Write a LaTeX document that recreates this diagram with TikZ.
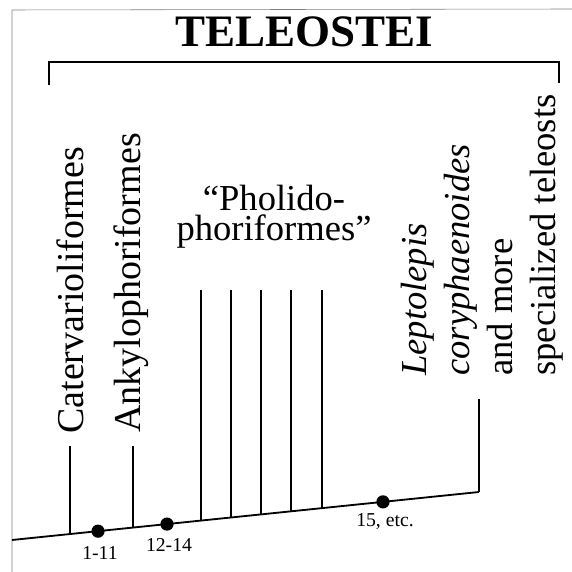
\documentclass[tikz,border=0pt]{standalone}
\usepackage{fontspec}
\setmainfont{Liberation Serif}
\usetikzlibrary{calc}

\begin{document}
\begin{tikzpicture}[
    x=0.025cm, y=0.025cm,
    % Styles
    taxon/.style={
        rotate=90,
        anchor=west,
        inner sep=0pt,
        font=\fontsize{27pt}{32pt}\selectfont
    },
    stem/.style={
        line width=0.9pt
    },
    axis/.style={
        line width=1.3pt
    },
    apo/.style={
        circle,
        fill=black,
        inner sep=0pt,
        minimum size=0.33cm
    },
    apolabel/.style={
        anchor=base,
        inner sep=0pt,
        font=\fontsize{14pt}{16pt}\selectfont
    }
]

% Frame
\useasboundingbox (0,0) rectangle (572,572);
\draw[gray, line width=0.4pt] (12,0) -- (12,562) -- (572,563);

% Title and bracket
\node[anchor=base, inner sep=0pt, font=\fontsize{32pt}{36pt}\selectfont\bfseries] (title) at (304,525) {TELEOSTEI};
\draw[line width=1.3pt] (49,487) -- (49,510) -- (559,510) -- (559,489);

% Main axis
\coordinate (root) at (12,32);
\coordinate (tip) at (479,80);
\draw[axis] (root) -- (tip);

% Tops of the branches
\coordinate (lowtop) at (0,126);
\coordinate (hightop) at (0,282);
\coordinate (tiptop) at (479,173);

% Branches
\coordinate (bCat) at ($(root)!0.1242!(tip)$);
\coordinate (bAnk) at ($(root)!0.2591!(tip)$);
\coordinate (bPh1) at ($(root)!0.4047!(tip)$);
\coordinate (bPh2) at ($(root)!0.4690!(tip)$);
\coordinate (bPh3) at ($(root)!0.5332!(tip)$);
\coordinate (bPh4) at ($(root)!0.5974!(tip)$);
\coordinate (bPh5) at ($(root)!0.6638!(tip)$);
\draw[stem] (bCat) -- (bCat |- lowtop);
\draw[stem] (bAnk) -- (bAnk |- lowtop);
\draw[stem] (bPh1) -- (bPh1 |- hightop);
\draw[stem] (bPh2) -- (bPh2 |- hightop);
\draw[stem] (bPh3) -- (bPh3 |- hightop);
\draw[stem] (bPh4) -- (bPh4 |- hightop);
\draw[stem] (bPh5) -- (bPh5 |- hightop);
\draw[stem] (tip) -- (tiptop);

% Characters on the axis
\node[apo] (apo1) at ($(root)!0.1842!(tip)$) {};
\node[apo] (apo2) at ($(root)!0.3319!(tip)$) {};
\node[apo] (apo3) at ($(root)!0.7944!(tip)$) {};
\node[apolabel] (lab1) at (100,12) {1-11};
\node[apolabel] (lab2) at (169,20) {12-14};
\node[apolabel] (lab3) at (385,45) {15, etc.};

% Taxa
\node[taxon] (cater) at (70,138) {Catervarioliformes};
\node[taxon] (ankylo) at (131,139) {Ankylophoriformes};
\node[align=center, anchor=base, inner sep=0pt, font=\fontsize{26pt}{22pt}\selectfont] (pholido) at (274,331) {“Pholido-\\phoriformes”};
\node[rotate=90, anchor=south west, align=left, inner sep=0pt, font=\fontsize{26pt}{30.6pt}\selectfont] (lepto) at (564,196) {\textit{Leptolepis}\\\textit{coryphaenoides}\\and more\\specialized teleosts};

\end{tikzpicture}
\end{document}
